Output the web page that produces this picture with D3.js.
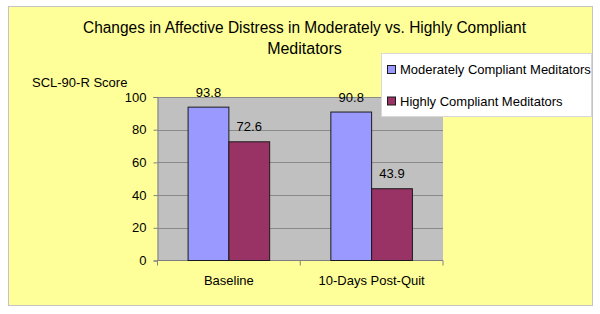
<!DOCTYPE html>
<html><head><meta charset="utf-8">
<script src="https://cdn.jsdelivr.net/npm/d3@7"></script>
<style>html,body{margin:0;padding:0;background:#fff;}svg{display:block;font-family:Arial,"Liberation Sans",sans-serif;}</style>
</head><body>
<script>
const categories = ["Baseline", "10-Days Post-Quit"];
const seriesNames = ["Moderately Compliant Meditators", "Highly Compliant Meditators"];
const moderateValues = [93.8, 90.8];
const highValues = [72.6, 43.9];
const yTicks = [0, 20, 40, 60, 80, 100];
const colors = ["#9999FF", "#993366"];
const titleLines = ["Changes in Affective Distress in Moderately vs. Highly Compliant", "Meditators"];
const yTitle = "SCL-90-R Score";

const W = 600, H = 314;
const svg = d3.select("body").append("svg").attr("width", W).attr("height", H);

svg.append("rect").attr("x", 8.5).attr("y", 6.5).attr("width", 584).attr("height", 299)
  .attr("fill", "#FFFF99").attr("stroke", "#c4c4c4").attr("stroke-width", 1);

const plot = {left: 157.5, right: 443, top: 97, bottom: 260.5};
const x0 = d3.scaleBand().domain(categories).range([plot.left, plot.right]).paddingInner(0).paddingOuter(0);
const x1 = d3.scaleBand().domain([0, 1]).range([0, x0.bandwidth()]).paddingOuter(0.75 / 1).paddingInner(0);
const y = d3.scaleLinear().domain([0, 100]).range([plot.bottom, plot.top]);

svg.append("rect").attr("x", plot.left).attr("y", plot.top).attr("width", plot.right - plot.left)
  .attr("height", plot.bottom - plot.top).attr("fill", "#C0C0C0");

// gridlines
svg.append("g").selectAll("line").data(yTicks.filter(d => d > 0)).join("line")
  .attr("x1", plot.left).attr("x2", plot.right)
  .attr("y1", d => Math.round(y(d)) + 0.5).attr("y2", d => Math.round(y(d)) + 0.5)
  .attr("stroke", "#8a8a8a").attr("stroke-width", 1);

// y axis
const yAxis = d3.axisLeft(y).tickValues(yTicks).tickSize(4).tickPadding(7);
const gy = svg.append("g").attr("transform", `translate(${plot.left},0)`).call(yAxis);
gy.select(".domain").attr("stroke", "#808080");
gy.selectAll(".tick line").attr("stroke", "#808080");
gy.selectAll(".tick text").attr("font-size", "13px").attr("fill", "#000").attr("font-family", "Arial, 'Liberation Sans', sans-serif");

// x axis
const gx = svg.append("g").attr("transform", `translate(0,${plot.bottom})`);
gx.append("line").attr("x1", plot.left).attr("x2", plot.right).attr("y1", 0).attr("y2", 0).attr("stroke", "#808080");
const bounds = [plot.left].concat(categories.map(c => x0(c) + x0.bandwidth()));
gx.selectAll("line.tk").data(bounds).join("line").attr("class", "tk")
  .attr("x1", d => d).attr("x2", d => d).attr("y1", 0).attr("y2", 5).attr("stroke", "#808080");
gx.selectAll("text").data(categories).join("text")
  .attr("x", d => x0(d) + x0.bandwidth() / 2).attr("y", 24.5)
  .attr("text-anchor", "middle").attr("font-size", "13px").attr("fill", "#000").text(d => d);

// bars
const data = categories.map((c, i) => ({cat: c, vals: [moderateValues[i], highValues[i]]}));
const groups = svg.append("g").selectAll("g").data(data).join("g")
  .attr("transform", d => `translate(${x0(d.cat)},0)`);
groups.selectAll("rect").data(d => d.vals.map((v, k) => ({v, k}))).join("rect")
  .attr("x", d => x1(d.k)).attr("width", x1.bandwidth())
  .attr("y", d => y(d.v)).attr("height", d => y(0) - y(d.v))
  .attr("fill", d => colors[d.k]).attr("stroke", "#1a1a1a").attr("stroke-width", 1);
groups.selectAll("text").data(d => d.vals.map((v, k) => ({v, k}))).join("text")
  .attr("x", d => x1(d.k) + x1.bandwidth() / 2).attr("y", d => y(d.v) - 10.5)
  .attr("text-anchor", "middle").attr("font-size", "13px").attr("fill", "#000")
  .text(d => d.v.toFixed(1));

// titles
svg.append("text").attr("x", 304.5).attr("y", 32.5).attr("text-anchor", "middle")
  .attr("font-size", "16px").attr("textLength", 443).attr("lengthAdjust", "spacingAndGlyphs")
  .text(titleLines[0]);
svg.append("text").attr("x", 304.5).attr("y", 53.5).attr("text-anchor", "middle")
  .attr("font-size", "16px").text(titleLines[1]);
svg.append("text").attr("x", 32).attr("y", 87).attr("font-size", "13px").text(yTitle);

// legend
const lg = svg.append("g");
lg.append("rect").attr("x", 381.5).attr("y", 53.5).attr("width", 210).attr("height", 63)
  .attr("fill", "#fff").attr("stroke", "#d8d8d8");
const items = lg.selectAll("g").data(seriesNames).join("g")
  .attr("transform", (d, i) => `translate(387.5,${65.5 + i * 31.5})`);
items.append("rect").attr("width", 8).attr("height", 8)
  .attr("fill", (d, i) => colors[i]).attr("stroke", "#1a1a1a");
items.append("text").attr("x", 12.5).attr("y", 8.5).attr("font-size", "13px").text(d => d);
</script>
</body></html>
